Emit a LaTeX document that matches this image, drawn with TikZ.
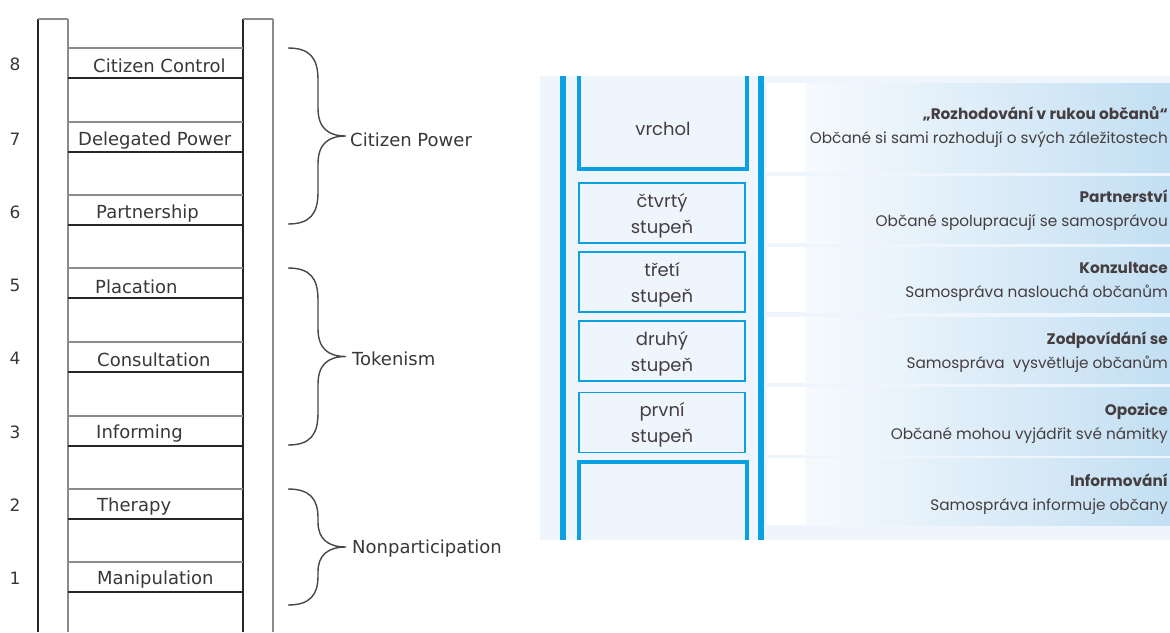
\documentclass[tikz,border=0pt]{standalone}
\usepackage{fontspec}
\setmainfont{DejaVu Sans}
\newfontfamily\geo{Poppins}
\definecolor{panel}{HTML}{EEF5FC}
\definecolor{lblue}{HTML}{C3DFF3}
\definecolor{rowl}{HTML}{F6FAFD}
\definecolor{bblue}{HTML}{0AA0E2}
\definecolor{txtb}{HTML}{453E40}
\newcommand\ladbrace[2]{%
  \pgfmathsetmacro\bmid{(#1+#2)/2}%
  \pgfmathsetmacro\bq{min(32,(#2-#1)/4)}%
  \draw[brc] (288,#1) .. controls (310,#1) and (318,#1+10) .. (318,#1+\bq)
    -- (318,\bmid-\bq+4) .. controls (318,\bmid-8) and (328,\bmid) .. (346,\bmid)
    .. controls (328,\bmid) and (318,\bmid+8) .. (318,\bmid+\bq-4)
    -- (318,#2-\bq) .. controls (318,#2-10) and (310,#2) .. (288,#2);}
\begin{document}
\begin{tikzpicture}[x=1pt,y=-1pt,
  dk/.style={draw=black!85,line width=2pt},
  lt/.style={draw=black!45,line width=1.4pt},
  lbl/.style={font=\fontsize{18}{21}\selectfont,text=black!78,anchor=west,inner sep=0pt},
  num/.style={font=\fontsize{17}{20}\selectfont,text=black!78,inner sep=0pt},
  brc/.style={draw=black!72,line width=1.4pt},
  brail/.style={draw=bblue,line width=6pt},
  bthick/.style={draw=bblue,line width=4pt},
  bbox/.style={draw=bblue,line width=1.6pt,fill=panel,minimum width=166pt,minimum height=60pt,inner sep=0pt},
  btxt/.style={align=center,text=txtb,font=\geo\fontsize{18}{26}\selectfont,inner sep=0pt},
  rt/.style={anchor=east,align=right,text=txtb,font=\geo\fontsize{15.3}{24}\selectfont,inner sep=0pt}]
\useasboundingbox (0,0) rectangle (1170,632);
\fill[white] (0,0) rectangle (1170,632);
% ---------- left ladder ----------
\draw[dk] (38,19) -- (38,632);
\draw[lt] (68,19) -- (68,632);
\draw[lt] (38,19) -- (68,19);
\draw[dk] (243,19) -- (243,632);
\draw[lt] (273,19) -- (273,632);
\draw[lt] (243,19) -- (273,19);
\foreach \t in {48,122,195,268,342,416,489,562}{
  \draw[lt] (68,\t) -- (243,\t);
  \draw[dk] (68,\t+30) -- (243,\t+30);
}
\node[lbl] (r8) at (93,65.5) {Citizen Control};
\node[lbl] (r7) at (78,140.5) {Delegated Power};
\node[lbl] (r6) at (96,213.5) {Partnership};
\node[lbl] (r5) at (95,286.5) {Placation};
\node[lbl] (r4) at (97,359.5) {Consultation};
\node[lbl] (r3) at (96,433.5) {Informing};
\node[lbl] (r2) at (97,506.5) {Therapy};
\node[lbl] (r1) at (97,579.5) {Manipulation};
\node[num] (n8) at (15,64) {8};
\node[num] (n7) at (15,139) {7};
\node[num] (n6) at (15,212) {6};
\node[num] (n5) at (15,285) {5};
\node[num] (n4) at (15,358) {4};
\node[num] (n3) at (15,432) {3};
\node[num] (n2) at (15,505) {2};
\node[num] (n1) at (15,578) {1};
\ladbrace{48}{224}
\ladbrace{268}{445}
\ladbrace{489}{605}
\node[lbl] (g3) at (350,139.5) {Citizen Power};
\node[lbl] (g2) at (352,358.5) {Tokenism};
\node[lbl] (g1) at (352,548.5) {Nonparticipation};
% ---------- right panel ----------
\fill[panel] (540,76) rectangle (1170,540);
\foreach \a/\b in {83/172,176/243,247/312,317/383,387/455,458/525}{
  \fill[white] (767,\a) rectangle (805,\b);
  \shade[left color=rowl,right color=lblue] (805,\a) rectangle (1170,\b);
}
\draw[brail] (563,76) -- (563,540);
\draw[brail] (761,76) -- (761,540);
\draw[bthick] (579,76) -- (579,169) -- (747,169) -- (747,76);
\draw[bthick] (579,540) -- (579,462) -- (747,462) -- (747,540);
\node[btxt] (top) at (663,129) {vrchol};
\node[bbox] (s4) at (662,213) {};
\node[bbox] (s3) at (662,282) {};
\node[bbox] (s2) at (662,351) {};
\node[bbox] (s1) at (662,422.5) {};
\node[btxt] (s4t) at (662,215.5) {čtvrtý\\stupeň};
\node[btxt] (s3t) at (662,284.5) {třetí\\stupeň};
\node[btxt] (s2t) at (662,353.5) {druhý\\stupeň};
\node[btxt] (s1t) at (662,425) {první\\stupeň};
\node[rt] (t6) at (1168,127) {\bfseries „Rozhodování v rukou občanů“\\Občané si sami rozhodují o svých záležitostech};
\node[rt] (t5) at (1168,210) {\bfseries Partnerství\\Občané spolupracují se samosprávou};
\node[rt] (t4) at (1168,281.5) {\bfseries Konzultace\\Samospráva naslouchá občanům};
\node[rt] (t3) at (1168,352.5) {\bfseries Zodpovídání se\\Samospráva\ \ vysvětluje občanům};
\node[rt] (t2) at (1168,423) {\bfseries Opozice\\Občané mohou vyjádřit své námitky};
\node[rt] (t1) at (1168,494.5) {\bfseries Informování\\Samospráva informuje občany};
\end{tikzpicture}
\end{document}
